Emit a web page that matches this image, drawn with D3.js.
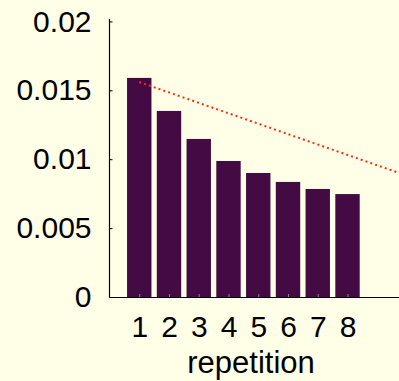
<!DOCTYPE html>
<html>
<head>
<meta charset="utf-8">
<script src="https://cdn.jsdelivr.net/npm/d3@7"></script>
<style>
  html, body { margin: 0; padding: 0; background: #ffffe8; }
  svg { display: block; }
  text { font-family: "Liberation Sans", Arial, Helvetica, sans-serif; fill: #000; }
</style>
</head>
<body>
<svg id="chart" width="399" height="381"></svg>
<script>
// Values per repetition
const repetitions = [1, 2, 3, 4, 5, 6, 7, 8];
const values = [0.0159, 0.0135, 0.01147, 0.00987, 0.0090, 0.00835, 0.00784, 0.00747];
const yTicks = [0, 0.005, 0.01, 0.015, 0.02];
const yTickLabels = ["0", "0.005", "0.01", "0.015", "0.02"];
// Reference trend line (two end points in data units)
const trendX = [1, 10];
const trendY = [0.0156, 0.0088];

const svg = d3.select("#chart");
const left = 109.5, zeroY = 297, topY = 19;

const x = d3.scaleLinear().domain([0, 10]).range([left, left + 297.5]);
const y = d3.scaleLinear().domain([0, 0.0202]).range([zeroY, zeroY - 0.0202 * 13780]);

const barW = 0.82;

// bars
svg.append("g").selectAll("rect")
  .data(values)
  .join("rect")
  .attr("x", (d, i) => x(repetitions[i] - barW / 2))
  .attr("width", (d, i) => x(repetitions[i] + barW / 2) - x(repetitions[i] - barW / 2))
  .attr("y", d => y(d))
  .attr("height", d => y(0) - y(d))
  .attr("fill", "#440a44");

// y axis: ticks point inward, labels on the left
const yAxis = d3.axisLeft(y)
  .tickValues(yTicks)
  .tickFormat((d, i) => yTickLabels[i])
  .tickSize(-3)
  .tickPadding(18);
const gy = svg.append("g").attr("transform", `translate(${left},0)`).call(yAxis);
gy.select(".domain").remove();
gy.selectAll(".tick line").attr("stroke", "#000");
gy.selectAll(".tick text").attr("font-size", 30).attr("font-family", "Liberation Sans, Arial, sans-serif");
svg.append("line")
  .attr("x1", left).attr("x2", left)
  .attr("y1", topY).attr("y2", zeroY + 0.5)
  .attr("stroke", "#000").attr("stroke-width", 1.2);

// x axis
const xAxis = d3.axisBottom(x)
  .tickValues(repetitions)
  .tickFormat(d3.format("d"))
  .tickSize(-3)
  .tickPadding(19);
const gx = svg.append("g").attr("transform", `translate(0,${zeroY})`).call(xAxis);
gx.select(".domain").remove();
gx.selectAll(".tick line").attr("stroke", "#888");
gx.selectAll(".tick text").attr("font-size", 30).attr("font-family", "Liberation Sans, Arial, sans-serif");
svg.append("line")
  .attr("x1", left).attr("x2", 399)
  .attr("y1", zeroY + 0.5).attr("y2", zeroY + 0.5)
  .attr("stroke", "#000").attr("stroke-width", 1.2);

// trend line
svg.append("path")
  .datum(trendX.map((d, i) => [d, trendY[i]]))
  .attr("d", d3.line().x(d => x(d[0])).y(d => y(d[1])))
  .attr("fill", "none")
  .attr("stroke", "#ff2a10")
  .attr("stroke-width", 2)
  .attr("stroke-dasharray", "2,3.1");

// axis title
svg.append("text")
  .attr("x", 251).attr("y", 373)
  .attr("text-anchor", "middle")
  .attr("font-size", 31)
  .text("repetition");
</script>
</body>
</html>
